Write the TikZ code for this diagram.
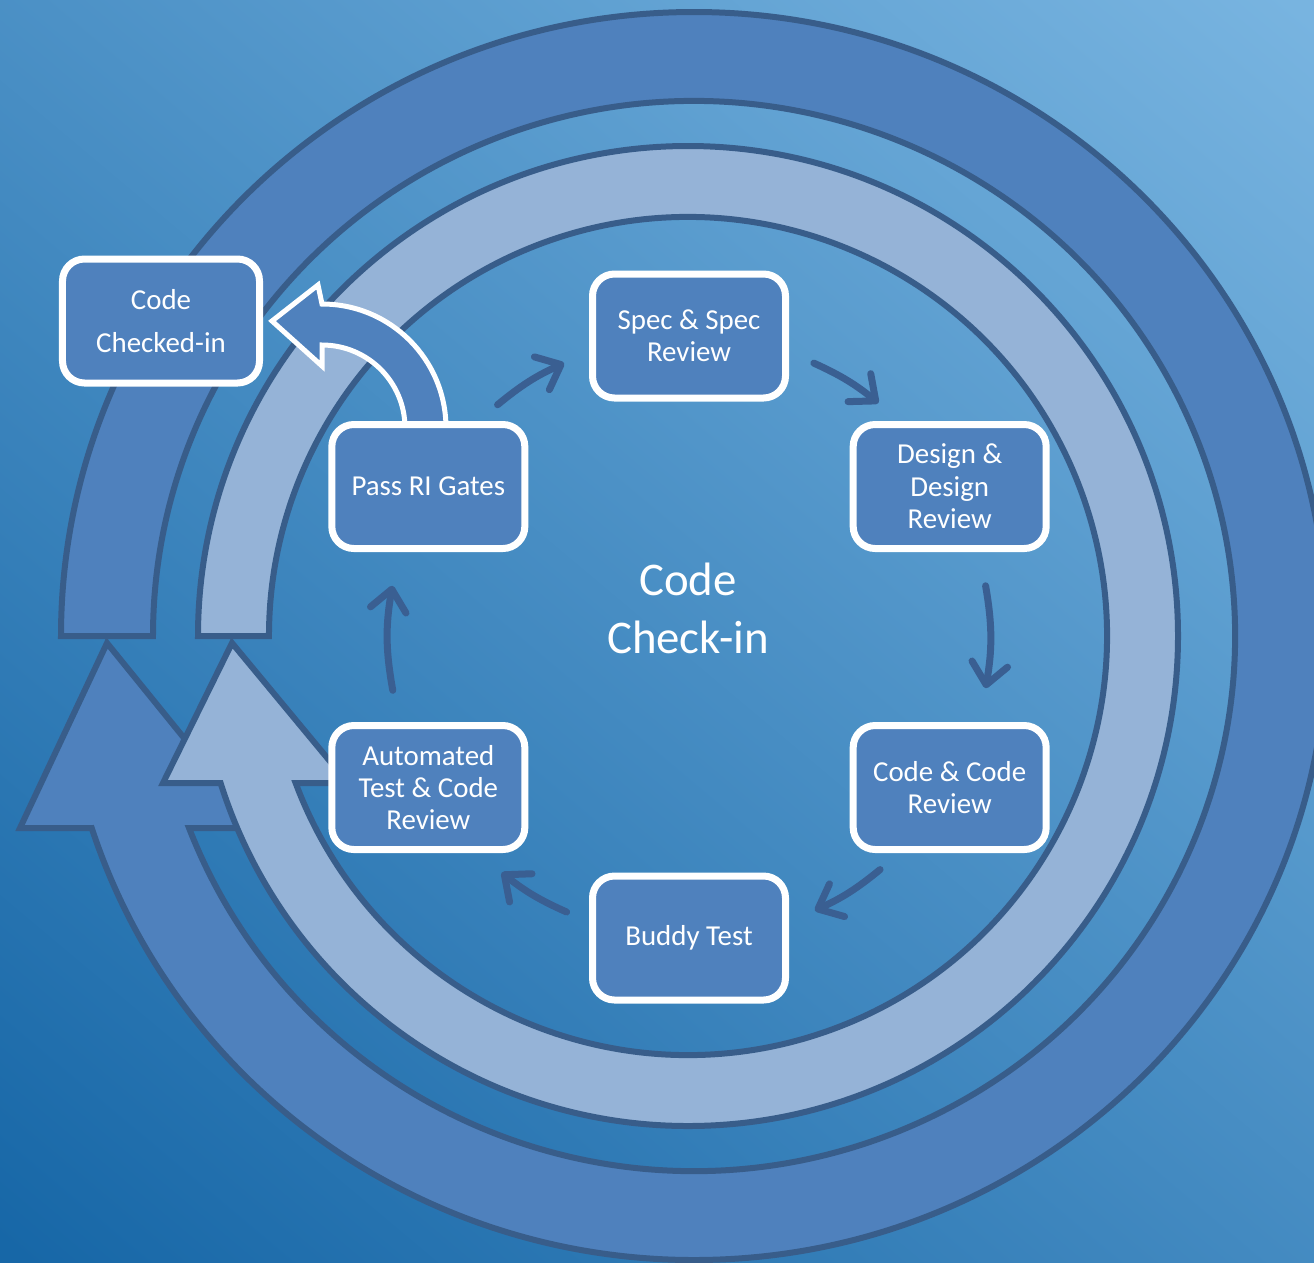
\documentclass[tikz,border=0pt]{standalone}
\usepackage{fontspec}
\setmainfont{Carlito}
\usetikzlibrary{calc,arrows.meta}
\definecolor{ringdark}{HTML}{4F81BD}
\definecolor{ringlight}{HTML}{95B3D7}
\definecolor{ringline}{HTML}{385D8A}
\definecolor{bgdark}{HTML}{1767A7}
\definecolor{bgmid}{HTML}{3788C5}
\definecolor{bglight}{HTML}{78B4E0}
\definecolor{boxfill}{HTML}{4F81BD}
\definecolor{conncol}{HTML}{3A5F92}
\begin{document}
\begin{tikzpicture}[x=1bp,y=-1bp,
  stagebox/.style={draw=white, line width=7bp, fill=boxfill, rounded corners=22bp,
    minimum width=193bp, minimum height=124bp, text=white,
    font=\fontsize{29}{32.5}\selectfont, align=center, inner sep=0pt},
  ringshape/.style={draw=ringline, line width=6bp, line join=miter},
  flow/.style={draw=conncol, line width=7bp, line cap=round,
    -{Straight Barb[length=21bp,width=36bp,round]}}
]
\useasboundingbox (0,0) rectangle (1314,1262);
\clip (0,0) rectangle (1314,1262);
\shade[bottom color=bgdark, middle color=bgmid, top color=bglight, shading angle=-40]
  (-250,-250) rectangle (1564,1512);

% outer ring arrow
\path[ringshape, fill=ringdark] (61,636)
  arc[start angle=180, end angle=522.08, x radius=633, y radius=624]
  -- (20,828) -- (107,643) -- (257,828) -- (189.04,828)
  arc[start angle=158.97, end angle=-180, x radius=541, y radius=535] -- cycle;

% light ring arrow
\path[ringshape, fill=ringlight] (198,636)
  arc[start angle=180, end angle=522.54, radius=490]
  -- (163,783) -- (232,643) -- (348,783) -- (295.63,783)
  arc[start angle=159.46, end angle=-180, radius=419] -- cycle;

% curved block arrow to Code Checked-in
\path[draw=white, line width=5bp, fill=boxfill, line join=miter] (446,428)
  arc[start angle=0, end angle=-90, radius=124]
  -- (318,285) -- (272,321) -- (322,366) -- (322,345)
  arc[start angle=-90, end angle=0, radius=83] -- cycle;

\coordinate (C) at (689,637);
\node[stagebox, minimum width=197bp] (checked) at (161,321) {Code\\[11.5bp]Checked-in};
\node[stagebox] (spec) at ($(C)+(-90:301)$) {Spec \& Spec\\Review};
\node[stagebox] (design) at ($(C)+(-30:301)$) {Design \&\\Design\\Review};
\node[stagebox] (codereview) at ($(C)+(30:301)$) {Code \& Code\\Review};
\node[stagebox] (buddy) at ($(C)+(90:301)$) {Buddy Test};
\node[stagebox] (auto) at ($(C)+(150:301)$) {Automated\\Test \& Code\\Review};
\node[stagebox] (passri) at ($(C)+(210:301)$) {Pass RI Gates};

\node[text=white, font=\fontsize{47}{58}\selectfont, align=center, inner sep=0pt] (centre) at (688,608) {Code\\Check-in};

% connectors
\coordinate (f1s) at ($(C)+(230.5:301)$); \coordinate (f1e) at ($(C)+(245.5:301)$);
\coordinate (f2s) at ($(C)+(294.5:301)$); \coordinate (f2e) at ($(C)+(309:301)$);
\coordinate (f3s) at ($(C)+(-9.8:301)$);  \coordinate (f3e) at ($(C)+(9.8:301)$);
\coordinate (f4s) at ($(C)+(50.6:301)$);  \coordinate (f4e) at ($(C)+(65.3:301)$);
\coordinate (f5s) at ($(C)+(114:301)$);   \coordinate (f5e) at ($(C)+(128.5:301)$);
\coordinate (f6s) at ($(C)+(169.8:301)$); \coordinate (f6e) at ($(C)+(189.8:301)$);
\draw[flow] (f1s) to[bend left=7.5] (f1e);
\draw[flow] (f2s) to[bend left=7.3] (f2e);
\draw[flow] (f3s) to[bend left=9.8] (f3e);
\draw[flow] (f4s) to[bend left=7.3] (f4e);
\draw[flow] (f5s) to[bend left=7.3] (f5e);
\draw[flow] (f6s) to[bend left=10] (f6e);
\end{tikzpicture}
\end{document}
